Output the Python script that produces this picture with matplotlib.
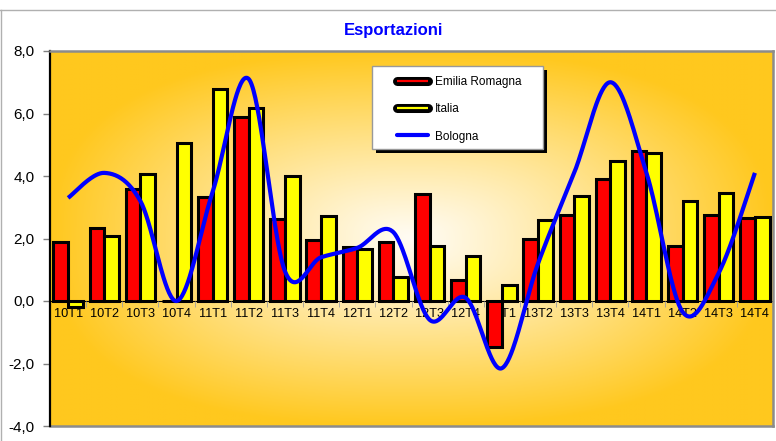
import numpy as np
import matplotlib.pyplot as plt
import matplotlib.patheffects as pe
from matplotlib.lines import Line2D
from matplotlib.patches import Rectangle
from matplotlib.ticker import FuncFormatter, FixedLocator

plt.rcParams['font.family'] = ['Liberation Sans', 'DejaVu Sans']

quarters = ["10T1", "10T2", "10T3", "10T4", "11T1", "11T2", "11T3", "11T4",
            "12T1", "12T2", "12T3", "12T4", "13T1", "13T2", "13T3", "13T4",
            "14T1", "14T2", "14T3", "14T4"]
emilia_romagna = [1.90, 2.34, 3.57, 0.0, 3.34, 5.90, 2.64, 1.96, 1.74, 1.88,
                  3.43, 0.67, -1.48, 1.99, 2.74, 3.89, 4.81, 1.77, 2.74, 2.66]
italia = [-0.18, 2.09, 4.07, 5.06, 6.79, 6.18, 4.01, 2.73, 1.66, 0.78,
          1.77, 1.44, 0.50, 2.58, 3.37, 4.48, 4.75, 3.19, 3.46, 2.70]
bologna = [3.3, 4.1, 3.2, 0.0, 3.5, 7.1, 0.95, 1.4, 1.7, 2.2,
           -0.6, 0.1, -2.15, 1.2, 4.1, 7.0, 4.1, -0.35, 0.9, 4.1]


def smooth_curve(xs, ys, steps=40):
    """ Bezier smoothing like the spreadsheet 'smoothed line' option. """
    xs = np.asarray(xs, float)
    ys = np.asarray(ys, float)
    px = np.concatenate([[xs[0]], xs, [xs[-1]]])
    py = np.concatenate([[ys[0]], ys, [ys[-1]]])
    out_x, out_y = [], []
    t = np.linspace(0, 1, steps)
    for i in range(1, len(px) - 2):
        p0 = np.array([px[i], py[i]])
        p3 = np.array([px[i + 1], py[i + 1]])
        c1 = p0 + (np.array([px[i + 1], py[i + 1]]) - np.array([px[i - 1], py[i - 1]])) / 6
        c2 = p3 - (np.array([px[i + 2], py[i + 2]]) - np.array([px[i], py[i]])) / 6
        b = ((1 - t) ** 3)[:, None] * p0 + (3 * (1 - t) ** 2 * t)[:, None] * c1 \
            + (3 * (1 - t) * t ** 2)[:, None] * c2 + (t ** 3)[:, None] * p3
        out_x.extend(b[:, 0])
        out_y.extend(b[:, 1])
    return out_x, out_y


W, H = 776, 441
fig = plt.figure(figsize=(W / 100, H / 100), dpi=100)
ax = fig.add_axes([50 / W, 1 - 426 / H, 723 / W, 375 / H])

# radial-ish gradient background of the plot area
gx, gy = np.meshgrid(np.linspace(-1, 1, 400), np.linspace(-1, 1, 300))
r = (np.abs(gx) ** 2.6 + np.abs(gy) ** 2.6) ** (1 / 2.6)
r = np.clip(r, 0, 1) ** 1.1
inner = np.array([255, 252, 244]) / 255
outer = np.array([255, 200, 30]) / 255
grad = inner[None, None, :] * (1 - r[..., None]) + outer[None, None, :] * r[..., None]
ax.imshow(grad, extent=[0, 1, 0, 1], transform=ax.transAxes, aspect='auto', zorder=0)

x = np.arange(len(quarters))
bw = 0.405
ax.bar(x - 0.203, emilia_romagna, bw, color='#ff0000', edgecolor='black', linewidth=2.2, zorder=2)
ax.bar(x + 0.203, italia, bw, color='#ffff00', edgecolor='black', linewidth=2.2, zorder=2)
sx, sy = smooth_curve(x, bologna)
ax.plot(sx, sy, color='#0000ff', linewidth=3, zorder=3, solid_capstyle='butt')

ax.set_xlim(-0.5, len(quarters) - 0.5)
ax.set_ylim(-4, 8)
ax.set_yticks(np.arange(-4, 8.1, 2))
ax.yaxis.set_major_formatter(FuncFormatter(lambda v, p: f"{v:.1f}".replace(".", ",")))
ax.tick_params(axis='y', direction='out', length=5, width=1, color='#808080',
               labelsize=11, pad=6)

ax.spines['bottom'].set_position(('data', 0))
ax.spines['bottom'].set_color('black')
ax.spines['bottom'].set_linewidth(0.8)
ax.spines['bottom'].set_zorder(1.5)
ax.spines['left'].set_color('black')
ax.spines['left'].set_linewidth(1.6)
for s in ['top', 'right']:
    ax.spines[s].set_color('#8c8c8c')
    ax.spines[s].set_linewidth(1.8)
ax.plot([0, 1], [0, 0], transform=ax.transAxes, color='#8c8c8c', lw=1.8, clip_on=False)

ax.set_xticks(x)
ax.set_xticklabels(quarters)
ax.xaxis.set_minor_locator(FixedLocator(np.arange(-0.5, len(quarters), 1)))
ax.tick_params(axis='x', which='major', length=0, labelsize=9.2, pad=5)
ax.tick_params(axis='x', which='minor', length=4, color='#a0a0a0', direction='out')

fig.text(394 / W, 1 - 30 / H, "Esportazioni", ha='center', va='center',
         fontsize=12, fontweight='bold', color='#0000ff')

# legend box with shadow
bx0, by0, bx1, by1 = 371.7, 65.7, 543, 149
ax.add_patch(Rectangle(((bx0 + 4) / W, 1 - (by1 + 4) / H), (bx1 - bx0) / W, (by1 - by0) / H,
                       transform=fig.transFigure, facecolor='black', edgecolor='none',
                       zorder=4, clip_on=False))
ax.add_patch(Rectangle((bx0 / W, 1 - by1 / H), (bx1 - bx0) / W, (by1 - by0) / H,
                       transform=fig.transFigure, facecolor='white', edgecolor='#999999',
                       linewidth=1, zorder=4.1, clip_on=False))
handles = [
    Line2D([], [], color='#ff0000', lw=1.6, solid_capstyle='butt',
           path_effects=[pe.Stroke(linewidth=6.5, foreground='black', capstyle='round'), pe.Normal()]),
    Line2D([], [], color='#ffff00', lw=1.6, solid_capstyle='butt',
           path_effects=[pe.Stroke(linewidth=6.5, foreground='black', capstyle='round'), pe.Normal()]),
    Line2D([], [], color='#0000ff', lw=3, solid_capstyle='round'),
]
leg = ax.legend(handles, ["Emilia Romagna", "Italia", "Bologna"], loc='upper left',
                bbox_to_anchor=(391.5 / W, 1 - 70 / H), bbox_transform=fig.transFigure,
                frameon=False, fontsize=8.5, borderpad=0, handlelength=2.6,
                handletextpad=0.55, labelspacing=1.3)
leg.set_zorder(5)

# outer chart border
fig.add_artist(Line2D([0, 1], [1 - 10 / H, 1 - 10 / H], transform=fig.transFigure,
                      color='#b0b0b0', lw=1))
fig.add_artist(Line2D([0.6 / W, 0.6 / W], [0, 1 - 10 / H], transform=fig.transFigure,
                      color='#b0b0b0', lw=1))

fig.savefig("out.png", dpi=100)
